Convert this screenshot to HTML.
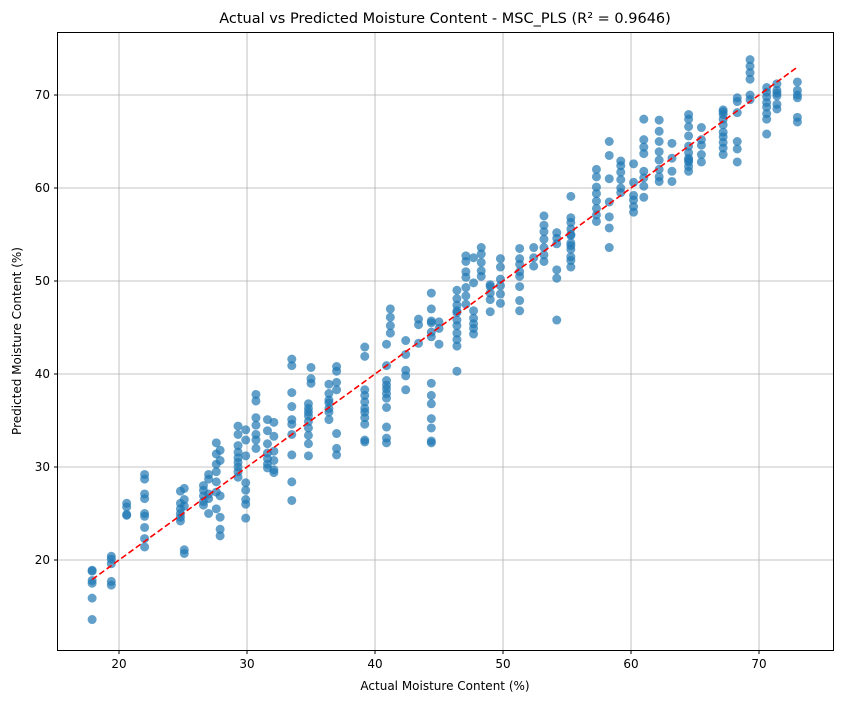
<!DOCTYPE html>
<html><head><meta charset="utf-8"><style>
body{margin:0;background:#fff;font-family:"DejaVu Sans","Liberation Sans",sans-serif}
svg text{font-family:"DejaVu Sans","Liberation Sans",sans-serif}
</style></head><body>
<svg id="chart" width="841" height="701">
<rect width="841" height="701" fill="#fff"/>
<g id="grid"></g>
<g id="xticks"></g>
<g id="yticks"></g>
<g id="pts"></g>
<line id="ideal" stroke="red" stroke-width="1.6" stroke-dasharray="6,3"/>
<rect x="57.5" y="32.5" width="776" height="618" fill="none" stroke="#000" stroke-width="1"/>
<text x="445" y="23" text-anchor="middle" font-size="14.5">Actual vs Predicted Moisture Content - MSC_PLS (R² = 0.9646)</text>
<text x="445" y="690" text-anchor="middle" font-size="12">Actual Moisture Content (%)</text>
<text x="21" y="341" text-anchor="middle" font-size="12" transform="rotate(-90 21 341)">Predicted Moisture Content (%)</text>
</svg>
<script>
const xTicks=[20,30,40,50,60,70];
const yTicks=[20,30,40,50,60,70];
const actualCols=[17.9,19.4,20.6,22.0,24.8,25.1,26.6,27.0,27.6,27.9,29.3,29.9,30.7,31.6,32.1,33.5,34.8,35.0,36.4,37.0,39.2,40.9,41.2,42.4,43.4,44.4,45.0,46.4,47.1,47.7,48.3,49.0,49.8,51.3,52.4,53.2,54.2,55.3,57.3,58.3,59.2,60.2,61.0,62.2,63.2,64.5,65.5,67.2,68.3,69.3,70.6,71.4,73.0];
const predCols=[
[18.8,17.5,17.8,15.9,13.6,18.9],
[20.4,20.1,19.6,17.7,17.3],
[26.1,25.7,24.9,24.8],
[29.2,28.7,27.1,26.6,25.0,24.7,23.5,22.3,21.4],
[25.5,25.0,24.6,26.1,27.4,24.2],
[27.7,21.1,20.7,26.5,25.8],
[26.9,25.9,27.5,28.0,26.3],
[27.1,28.7,29.2,25.0,26.6],
[32.6,31.4,30.3,29.5,28.4,27.3,25.5],
[24.6,23.3,22.6,26.9,30.7,31.8],
[34.4,33.5,32.3,31.6,31.0,30.5,30.0,29.5,28.9],
[28.3,27.5,26.5,26.0,24.5,34.0,32.9,31.2],
[37.8,37.1,35.3,34.5,33.5,32.9,32.0],
[31.5,30.9,30.3,29.9,35.1,33.9,32.5],
[34.8,33.3,31.7,30.7,29.7,29.4],
[41.6,40.9,38.0,36.5,35.1,33.5,31.3,28.4,26.4,34.6],
[36.3,35.5,34.9,34.2,33.4,32.5,31.2,35.9,36.8],
[40.7,39.5,39.0],
[36.9,36.3,38.9,37.9,37.2,35.9,35.1],
[39.1,33.6,32.0,31.3,40.8,40.3,38.3],
[37.0,36.3,35.9,35.3,34.6,32.7,32.9,42.9,41.9,37.7,38.3],
[40.9,39.3,38.4,37.4,36.4,34.3,33.1,32.6,43.2,38.8,37.9],
[47.0,46.1,45.2,44.4],
[43.6,42.1,40.4,38.3,39.8],
[45.9,45.3,43.3],
[48.7,47.0,45.5,44.5,39.0,37.7,36.8,35.2,34.2,32.8,32.6,45.7,44.0],
[45.6,44.9,43.2],
[49.0,48.1,47.4,46.6,45.8,45.2,44.4,43.7,43.0,40.3,46.8],
[52.7,52.1,51.0,50.4,49.3,48.4,47.5],
[46.8,46.0,45.4,44.9,44.3,52.5,49.8],
[53.6,52.9,52.0,51.1,50.5],
[49.4,48.7,48.0,46.7,49.6],
[52.4,51.5,50.2,49.5,48.6,47.6],
[53.5,52.4,51.8,51.0,50.5,49.4,47.9,46.8],
[53.6,52.5,51.6],
[57.0,56.0,55.3,54.5,53.6,52.8,52.1],
[51.2,50.3,45.8,54.6,55.2,54.0],
[55.6,54.9,54.1,53.4,52.6,51.5,56.8,56.3,59.1,55.0,53.8,52.2],
[62.0,61.2,60.1,59.4,58.6,57.8,57.1,56.4],
[55.7,53.6,65.0,63.5,61.0,58.5,56.9],
[62.9,62.4,61.7,60.9,60.0,59.5],
[58.7,58.0,57.4,62.6,60.6,59.2],
[67.4,65.2,64.4,63.7,61.8,61.1,60.2,59.0],
[67.3,66.1,65.0,63.9,63.0,62.0,61.2,60.7],
[64.8,63.2,61.8,60.7],
[67.9,67.4,66.6,65.6,64.5,63.8,63.2,62.8,62.3,61.8,63.0],
[66.5,65.2,64.6,63.6,62.8],
[68.4,67.9,67.4,66.0,65.5,64.9,64.3,63.6,68.2,66.8],
[69.7,69.3,65.0,64.2,62.8,68.1],
[73.8,73.1,72.4,71.7,70.0,69.5],
[70.8,70.3,69.8,69.2,68.7,68.0,67.4,65.8],
[70.5,69.9,68.5,70.2,71.2,69.0],
[71.4,70.5,70.0,69.7,67.6,67.1]
];
const lineEnds=[17.9,73.0];
const X=v=>119+(v-20)*12.8;
const Y=v=>560-(v-20)*9.3;
const NS="http://www.w3.org/2000/svg";
function mk(t,a,p){const e=document.createElementNS(NS,t);for(const k in a)e.setAttribute(k,a[k]);p.appendChild(e);return e;}
const grid=document.getElementById('grid'),xg=document.getElementById('xticks'),yg=document.getElementById('yticks'),pts=document.getElementById('pts');
xTicks.forEach(v=>{const x=X(v);
const gl=mk('line',{x1:x,x2:x,y1:33,y2:650,stroke:'#b0b0b0','stroke-width':0.8},grid);


mk('line',{x1:x,x2:x,y1:650,y2:654,stroke:'#000'},xg);
const t=mk('text',{x:x,y:668,'text-anchor':'middle','font-size':12},xg);t.textContent=v;

});
yTicks.forEach(v=>{const y=Y(v);
const gl=mk('line',{x1:58,x2:833,y1:y,y2:y,stroke:'#b0b0b0','stroke-width':0.8},grid);


mk('line',{x1:54,x2:58,y1:y,y2:y,stroke:'#000'},yg);
const t=mk('text',{x:50,y:y+4,'text-anchor':'end','font-size':12},yg);t.textContent=v;

});
actualCols.forEach((a,i)=>predCols[i].forEach(p=>{
const c=mk('circle',{cx:X(a),cy:Y(p),r:4.5,fill:'#1f77b4','fill-opacity':0.7},pts);

}));
const l=document.getElementById('ideal');
l.setAttribute('x1',X(lineEnds[0]));l.setAttribute('y1',Y(lineEnds[0]));
l.setAttribute('x2',X(lineEnds[1]));l.setAttribute('y2',Y(lineEnds[1]));
</script>
</body></html>
